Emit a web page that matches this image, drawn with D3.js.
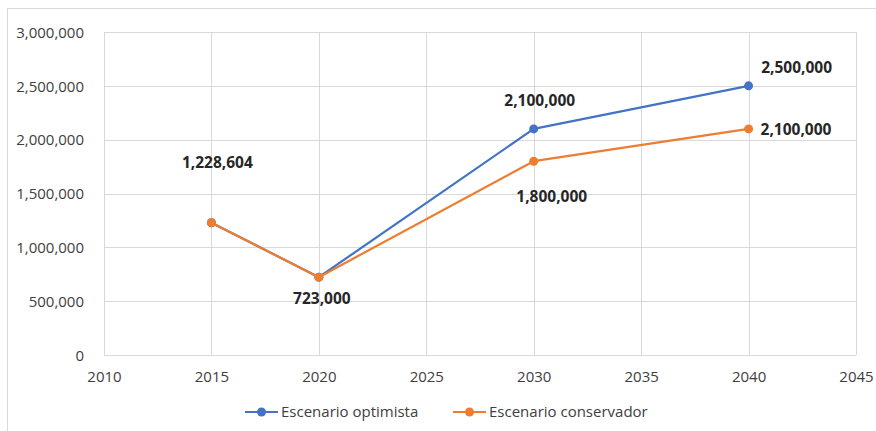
<!DOCTYPE html>
<html><head><meta charset="utf-8">
<script src="https://cdn.jsdelivr.net/npm/d3@7"></script>
<style>body{margin:0;background:#fff;} text{font-family:"Open Sans","Noto Sans",sans-serif;}</style>
</head><body>
<svg id="c" width="876" height="431"></svg>
<script>
const years = [2015, 2020, 2030, 2040];
const optimista = [1228604, 723000, 2100000, 2500000];
const conservador = [1228604, 723000, 1800000, 2100000];
const seriesNames = ["Escenario optimista", "Escenario conservador"];
const colors = ["#4472C4", "#ED7D31"];
const xTicks = [2010, 2015, 2020, 2025, 2030, 2035, 2040, 2045];
const yTicks = [0, 500000, 1000000, 1500000, 2000000, 2500000, 3000000];

const svg = d3.select("#c");
// outer frame
svg.append("rect").attr("x",7.5).attr("y",8.5).attr("width",900).attr("height",500)
  .attr("fill","none").attr("stroke","#d9d9d9").attr("stroke-width",1);

const x = d3.scaleLinear().domain([2010,2045]).range([104,856]);
const y = d3.scaleLinear().domain([0,3000000]).range([355,32]);
const fmt = d3.format(",");

const g = svg.append("g");
g.selectAll(".hg").data(yTicks).join("line")
  .attr("x1",x(2010)).attr("x2",x(2045)).attr("y1",d=>Math.round(y(d))+0.5).attr("y2",d=>Math.round(y(d))+0.5)
  .attr("stroke","#d9d9d9").attr("stroke-width",1);
g.selectAll(".vg").data(xTicks).join("line")
  .attr("y1",y(0)).attr("y2",y(3000000)).attr("x1",d=>Math.round(x(d))+0.5).attr("x2",d=>Math.round(x(d))+0.5)
  .attr("stroke","#d9d9d9").attr("stroke-width",1);

const yAxis = d3.axisLeft(y).tickValues(yTicks).tickFormat(fmt).tickSize(0).tickPadding(20);
const ya = svg.append("g").attr("transform",`translate(${x(2010)},0)`).call(yAxis);
ya.select(".domain").remove();
ya.selectAll("text").attr("font-size",15).attr("fill","#404040").attr("font-family","'Open Sans',sans-serif").attr("dy","0.35em");

const xAxis = d3.axisBottom(x).tickValues(xTicks).tickFormat(d3.format("d")).tickSize(0).tickPadding(16);
const xa = svg.append("g").attr("transform",`translate(0,${y(0)})`).call(xAxis);
xa.select(".domain").remove();
xa.selectAll("text").attr("font-size",15).attr("fill","#404040").attr("font-family","'Open Sans',sans-serif");

const data = [optimista, conservador];
const line = d3.line().x((d,i)=>x(years[i])).y(d=>y(d));
data.forEach((s,k)=>{
  svg.append("path").datum(s).attr("d",line).attr("fill","none")
    .attr("stroke",colors[k]).attr("stroke-width",2.2).attr("stroke-linejoin","round");
  svg.selectAll(".m"+k).data(s).join("circle")
    .attr("cx",(d,i)=>x(years[i])).attr("cy",d=>y(d)).attr("r",4.5).attr("fill",colors[k]);
});

const labels = [
  {v: conservador[0], yr: years[0], dx: 6, dy: -55, anchor:"middle"},
  {v: conservador[1], yr: years[1], dx: 3, dy: 27, anchor:"middle"},
  {v: optimista[2], yr: years[2], dx: 6, dy: -23, anchor:"middle"},
  {v: conservador[2], yr: years[2], dx: 18, dy: 41, anchor:"middle"},
  {v: optimista[3], yr: years[3], dx: 48, dy: -13, anchor:"middle"},
  {v: conservador[3], yr: years[3], dx: 12, dy: 6, anchor:"start"}
];
svg.selectAll(".lbl").data(labels).join("text")
  .attr("x",d=>x(d.yr)+d.dx).attr("y",d=>y(d.v)+d.dy)
  .attr("text-anchor",d=>d.anchor).attr("font-size",15.5).attr("font-weight","bold")
  .attr("fill","#262626").text(d=>fmt(d.v));

const leg = [{x:245},{x:453}];
leg.forEach((l,k)=>{
  const lg = svg.append("g").attr("transform",`translate(${l.x},412)`);
  lg.append("line").attr("x1",0).attr("x2",33).attr("y1",0).attr("y2",0).attr("stroke",colors[k]).attr("stroke-width",2.2);
  lg.append("circle").attr("cx",16.5).attr("cy",0).attr("r",4.5).attr("fill",colors[k]);
  lg.append("text").attr("x",36).attr("y",0).attr("dy","0.35em").attr("font-size",15).attr("fill","#404040").text(seriesNames[k]);
});
</script>
</body></html>
